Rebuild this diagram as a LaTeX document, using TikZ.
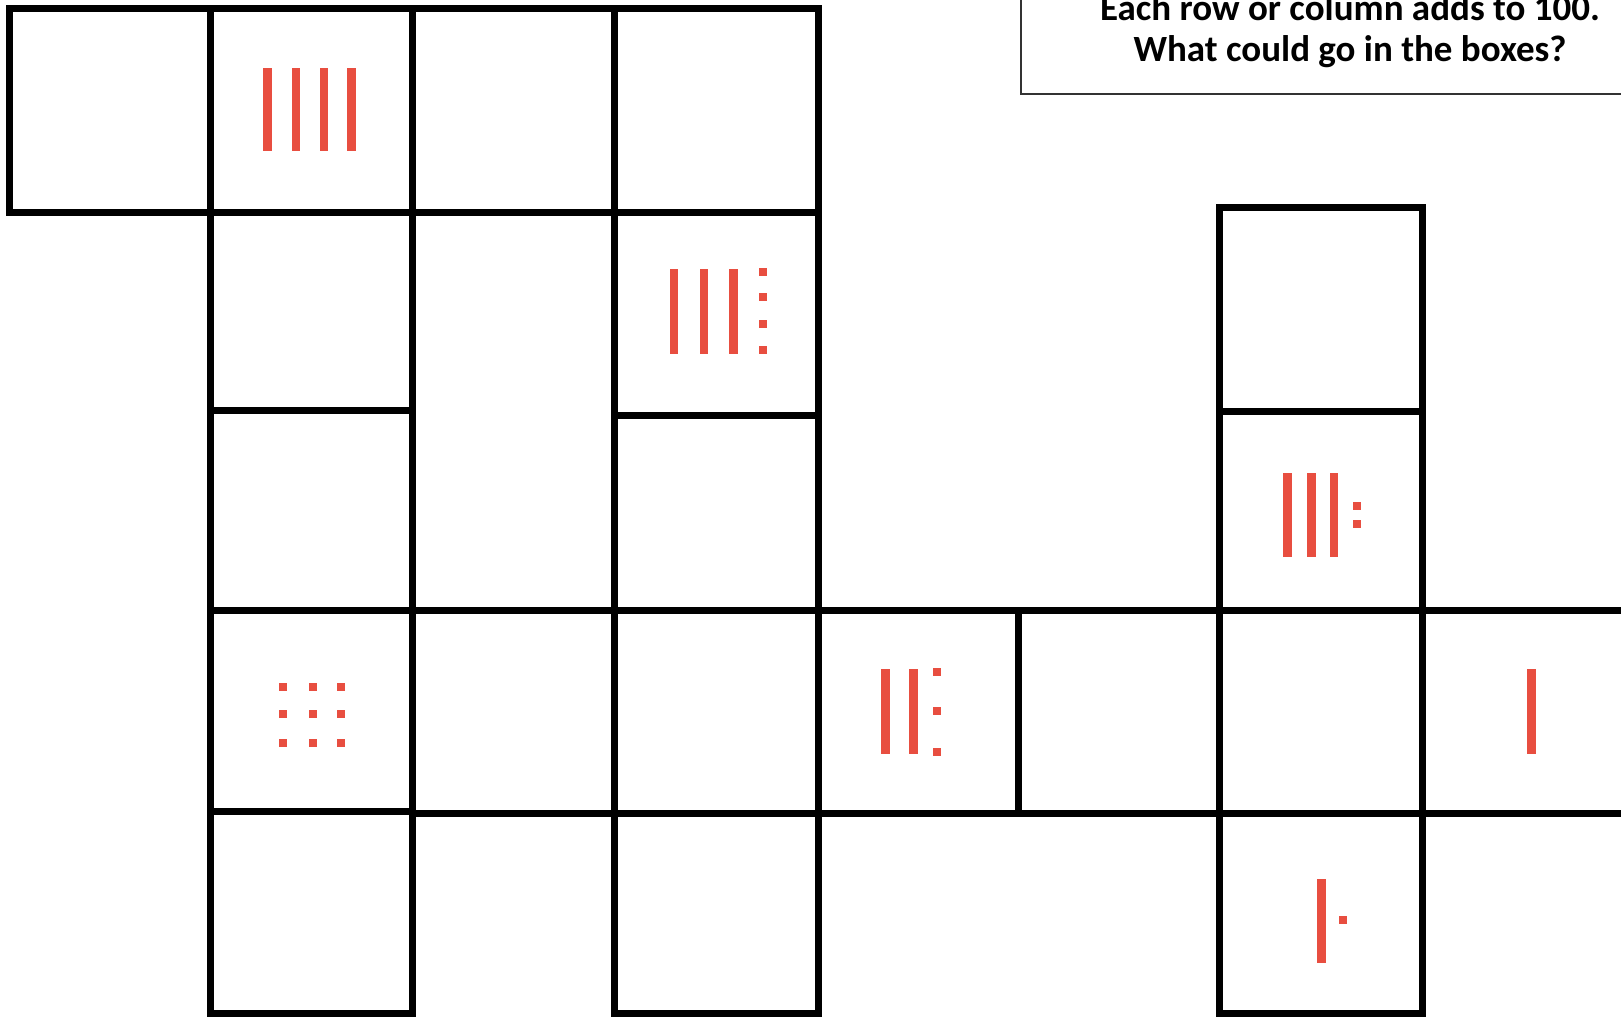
\documentclass[tikz,border=0pt]{standalone}
\usepackage{fontspec}
\setmainfont{Carlito}
\definecolor{tallyred}{RGB}{232,78,64}
\newcommand\tallybar[3]{\fill[tallyred] ({#1-4.3},#2) rectangle ({#1+4.3},#3);}
\newcommand\tallydot[2]{\fill[tallyred] ({#1-4},{#2-4}) rectangle ({#1+4},{#2+4});}
\tikzset{
  cell/.style={draw=black, line width=7pt},
  infobox/.style={draw=black!80, line width=1.8pt},
  infotext/.style={font=\bfseries\fontsize{37}{41}\selectfont, anchor=base, inner sep=0pt}
}
\begin{document}
\begin{tikzpicture}[x=1pt,y=-1pt]
\useasboundingbox (0,0) rectangle (1621,1017);
\clip (0,0) rectangle (1621,1017);
\fill[white] (0,0) rectangle (1621,1017);
% row 0
\draw[cell] (9,8) rectangle (210,212);
\draw[cell] (210,8) rectangle (412,212);
\draw[cell] (412,8) rectangle (614,212);
\draw[cell] (614,8) rectangle (818,212);
% column 1
\draw[cell] (210,212) rectangle (412,410);
\draw[cell] (210,410) rectangle (412,610);
\draw[cell] (210,610) rectangle (412,811);
\draw[cell] (210,811) rectangle (412,1013);
% column 3
\draw[cell] (614,212) rectangle (818,415);
\draw[cell] (614,415) rectangle (818,610);
\draw[cell] (614,610) rectangle (818,813);
\draw[cell] (614,813) rectangle (818,1013);
% row 3
\draw[cell] (412,610) rectangle (614,813);
\draw[cell] (818,610) rectangle (1018,813);
\draw[cell] (1018,610) rectangle (1219,813);
\draw[cell] (1219,610) rectangle (1422,813);
\draw[cell] (1422,610) rectangle (1660,813);
% column 6
\draw[cell] (1219,207) rectangle (1422,411);
\draw[cell] (1219,411) rectangle (1422,610);
\draw[cell] (1219,813) rectangle (1422,1013);
% tallies
\tallybar{267.5}{68}{151}\tallybar{296}{68}{151}\tallybar{324}{68}{151}\tallybar{351.5}{68}{151}
\tallybar{674}{269}{354}\tallybar{704}{269}{354}\tallybar{733.7}{269}{354}
\tallydot{762.7}{272}\tallydot{762.7}{296.5}\tallydot{762.7}{324}\tallydot{762.7}{350}
\tallybar{1287.5}{473}{557}\tallybar{1311.5}{473}{557}\tallybar{1334}{473}{557}
\tallydot{1356.5}{506}\tallydot{1356.5}{524}
\foreach \dx in {282.7,312.7,341}{\foreach \dy in {686.7,714.3,742.7}{\tallydot{\dx}{\dy}}}
\tallybar{885.7}{669}{754}\tallybar{913.3}{669}{754}
\tallydot{936.7}{671.7}\tallydot{936.7}{710.7}\tallydot{936.7}{752.3}
\tallybar{1531.7}{669}{754}
\tallybar{1321.7}{879}{963}\tallydot{1342.7}{920}
% instruction box
\draw[infobox] (1021,-30) rectangle (1700,94);
\node[infotext] (line1) at (1350,20) {Each row or column adds to 100.};
\node[infotext] (line2) at (1350,61) {What could go in the boxes?};
\end{tikzpicture}
\end{document}
